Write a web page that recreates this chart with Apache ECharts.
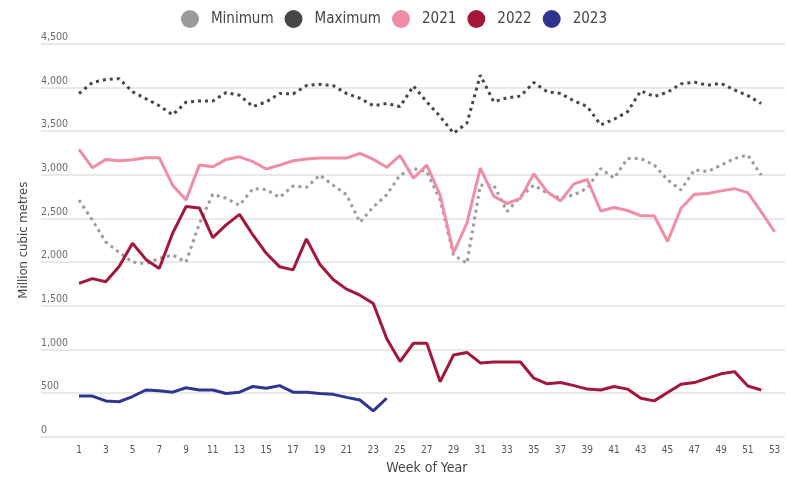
<!DOCTYPE html>
<html>
<head>
<meta charset="utf-8">
<title>Weekly volumes</title>
<script src="https://cdn.jsdelivr.net/npm/echarts@6/dist/echarts.min.js"></script>
<style>
  html, body { margin: 0; padding: 0; background: #fff; }
  #chart { width: 788px; height: 478px; }
</style>
</head>
<body>
<div id="chart"></div>
<script>
// week numbers on the x axis
const weeks = [];
for (let w = 1; w <= 53; w++) weeks.push(String(w));

// values (million cubic metres)
const minimum = [2710, 2480, 2230, 2110, 2000, 1980, 2040, 2080, 2000, 2440, 2775, 2730, 2650, 2840, 2830, 2740, 2870, 2855, 2995, 2880, 2770, 2455, 2630, 2770, 2995, 3070, 3035, 2710, 2080, 1985, 2880, 2880, 2580, 2750, 2880, 2790, 2730, 2770, 2845, 3070, 2960, 3185, 3185, 3110, 2940, 2825, 3055, 3035, 3110, 3185, 3225, 2995];
const maximum = [3930, 4055, 4090, 4100, 3950, 3870, 3790, 3685, 3830, 3845, 3845, 3940, 3910, 3780, 3835, 3930, 3925, 4020, 4035, 4020, 3930, 3875, 3790, 3815, 3780, 4015, 3835, 3665, 3475, 3590, 4140, 3835, 3880, 3900, 4055, 3950, 3930, 3845, 3780, 3570, 3635, 3720, 3960, 3895, 3945, 4040, 4060, 4025, 4045, 3970, 3905, 3815];
const y2021 = [3290, 3080, 3175, 3160, 3170, 3195, 3195, 2880, 2710, 3110, 3090, 3175, 3205, 3150, 3065, 3110, 3160, 3180, 3190, 3190, 3190, 3245, 3175, 3085, 3220, 2960, 3110, 2765, 2105, 2445, 3075, 2755, 2670, 2730, 3010, 2805, 2700, 2895, 2945, 2585, 2625, 2590, 2530, 2530, 2235, 2615, 2775, 2785, 2815, 2840, 2795, 2575, 2345];
const y2022 = [1755, 1810, 1775, 1950, 2215, 2030, 1925, 2330, 2635, 2620, 2280, 2425, 2545, 2310, 2100, 1945, 1910, 2265, 1975, 1800, 1690, 1620, 1525, 1125, 860, 1070, 1070, 630, 935, 965, 845, 855, 855, 855, 670, 605, 620, 585, 545, 535, 575, 545, 440, 410, 505, 600, 620, 670, 720, 745, 580, 535];
const y2023 = [465, 465, 410, 400, 460, 535, 525, 510, 560, 535, 535, 495, 510, 575, 555, 585, 510, 510, 495, 485, 450, 420, 295, 440];

const yTicks = [0, 500, 1000, 1500, 2000, 2500, 3000, 3500, 4000, 4500];

const colors = {
    Minimum: '#9b9b9b',
    Maximum: '#474747',
    '2021': '#ef8ea4',
    '2022': '#a3173b',
    '2023': '#2f3690'
};

const font = "'Liberation Sans Narrow', 'DejaVu Sans Condensed', sans-serif";
const gridTop = 43.7, gridBottom = 41.3;

const chart = echarts.init(document.getElementById('chart'), null, { renderer: 'canvas' });

const dotted = (name, data) => ({
    name: name,
    type: 'line',
    xAxisIndex: 1,
    yAxisIndex: 1,
    data: data,
    symbol: 'none',
    lineStyle: { color: colors[name], width: 3, type: [3, 4], cap: 'butt' },
    itemStyle: { color: colors[name] }
});

const solid = (name, data) => ({
    name: name,
    type: 'line',
    xAxisIndex: 1,
    yAxisIndex: 1,
    data: data,
    symbol: 'none',
    lineStyle: { color: colors[name], width: 3 },
    itemStyle: { color: colors[name] }
});

chart.setOption({
    animation: false,
    backgroundColor: '#fff',
    legend: {
        top: 5,
        left: 'center',
        icon: 'circle',
        itemWidth: 18,
        itemHeight: 18,
        itemGap: 11,
        textStyle: { fontFamily: font, fontSize: 15, color: '#444', padding: [0, 0, 0, 7] },
        data: ['Minimum', 'Maximum', '2021', '2022', '2023']
    },
    grid: [
        { left: 41, right: 3, top: gridTop, bottom: gridBottom, outerBoundsMode: 'none' },
        { left: 72.3, right: 6.7, top: gridTop, bottom: gridBottom, outerBoundsMode: 'none' }
    ],
    xAxis: [
        { gridIndex: 0, type: 'value', show: false, min: 0, max: 1 },
        {
            gridIndex: 1,
            type: 'category',
            data: weeks,
            boundaryGap: true,
            axisLine: { show: false },
            axisTick: { show: false },
            axisLabel: { interval: 1, margin: 9, fontFamily: font, fontSize: 10, color: '#555' },
            name: 'Week of Year',
            nameLocation: 'middle',
            nameGap: 25,
            nameTextStyle: { fontFamily: font, fontSize: 14, color: '#444' }
        }
    ],
    yAxis: [
        {
            gridIndex: 0,
            type: 'value',
            min: yTicks[0],
            max: yTicks[yTicks.length - 1],
            interval: 500,
            axisLine: { show: false },
            axisTick: { show: false },
            splitLine: { lineStyle: { color: '#e2e2e2', width: 1.5 } },
            axisLabel: {
                inside: true,
                margin: 0,
                verticalAlign: 'bottom',
                padding: [0, 0, 1, 0],
                fontFamily: font,
                fontSize: 10.5,
                color: '#6a6a6a',
                formatter: v => v.toLocaleString('en-US')
            },
            name: 'Million cubic metres',
            nameLocation: 'middle',
            nameGap: 3,
            nameTextStyle: { fontFamily: font, fontSize: 13, color: '#444' }
        },
        { gridIndex: 1, type: 'value', show: false, min: 0, max: 4500 }
    ],
    series: [
        dotted('Minimum', minimum),
        dotted('Maximum', maximum),
        solid('2021', y2021),
        solid('2022', y2022),
        solid('2023', y2023)
    ]
});
</script>
</body>
</html>
